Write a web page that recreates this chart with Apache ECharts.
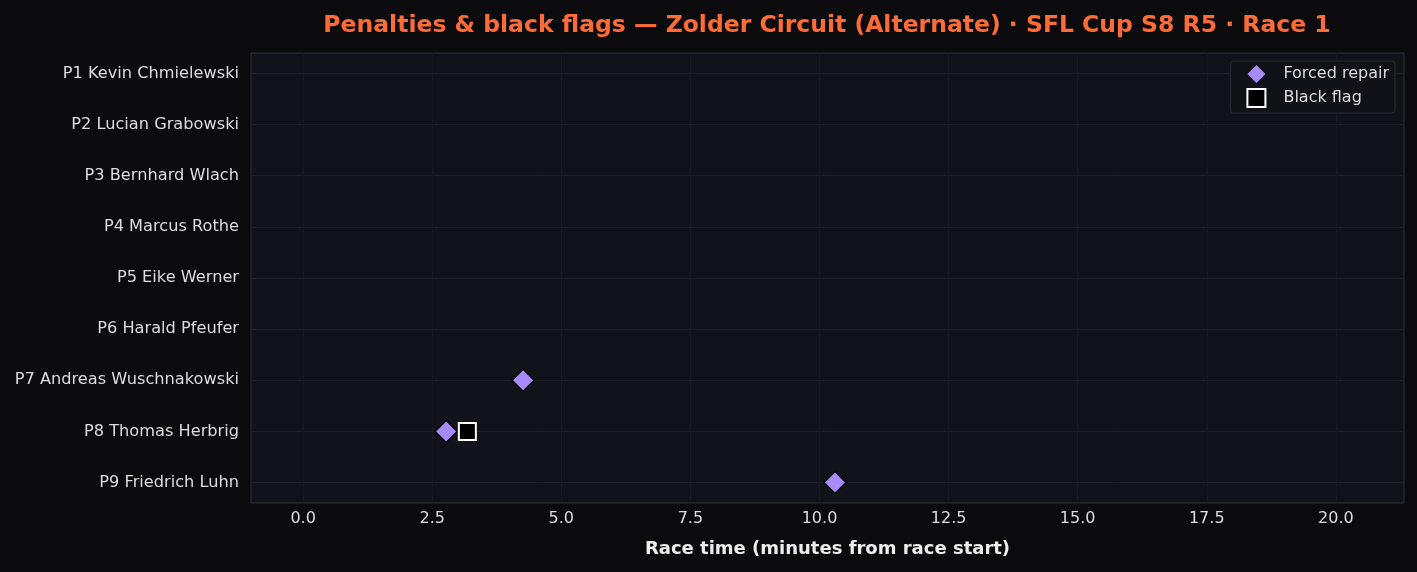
<!DOCTYPE html>
<html>
<head>
<meta charset="utf-8">
<script src="https://cdn.jsdelivr.net/npm/echarts@6/dist/echarts.min.js"></script>
<style>
  html, body { margin: 0; padding: 0; background: #0b0b0e; }
  #main { width: 1417px; height: 572px; }
</style>
</head>
<body>
<div id="main"></div>
<script>
// drivers, top to bottom (finishing order)
var drivers = [
    'P1 Kevin Chmielewski',
    'P2 Lucian Grabowski',
    'P3 Bernhard Wlach',
    'P4 Marcus Rothe',
    'P5 Eike Werner',
    'P6 Harald Pfeufer',
    'P7 Andreas Wuschnakowski',
    'P8 Thomas Herbrig',
    'P9 Friedrich Luhn'
];

// forced repair events: driver index + race minute
var repairDriver = [6, 7, 8];
var repairTime = [4.26, 2.77, 10.30];

// black flag events
var flagDriver = [7];
var flagTime = [3.18];

// x tick labels
var xTicks = [0, 2.5, 5, 7.5, 10, 12.5, 15, 17.5, 20];

var rowIdx = drivers.map(function (d, i) { return i; });

var chart = echarts.init(document.getElementById('main'));

var font = "'DejaVu Sans', sans-serif";
var gridColor = '#1f1f29';
var repairColor = '#a78bfa';

function pairs(xs, ys) {
    return xs.map(function (x, i) { return [x, ys[i]]; });
}

var option = {
    backgroundColor: '#0b0b0e',
    animation: false,
    title: {
        text: 'Penalties & black flags \u2014 Zolder Circuit (Alternate) \u00b7 SFL Cup S8 R5 \u00b7 Race 1',
        left: 822,
        textAlign: 'center',
        top: 9,
        textStyle: { color: '#ff6b35', fontFamily: font, fontSize: 23.5, fontWeight: 'bold' }
    },
    legend: {
        orient: 'vertical',
        right: 22,
        top: 61,
        z: 20,
        padding: [4, 6, 5, 16],
        itemGap: 5,
        itemWidth: 18,
        itemHeight: 18,
        backgroundColor: '#111118',
        borderColor: '#2c2c36',
        borderWidth: 1,
        borderRadius: 3,
        textStyle: { color: '#dddddd', fontFamily: font, fontSize: 16, padding: [0, 0, 0, 13] },
        data: [
            { name: 'Forced repair', icon: 'path://M10,0 L20,10 L10,20 L0,10 Z', itemStyle: { color: repairColor, borderWidth: 0 } },
            { name: 'Black flag', icon: 'rect', itemStyle: { color: '#000000', borderColor: '#ffffff', borderWidth: 2 } }
        ]
    },
    grid: {
        left: 251, right: 13, top: 53, bottom: 69,
        show: true,
        backgroundColor: '#12121a',
        borderColor: '#2e2e38',
        borderWidth: 1
    },
    xAxis: {
        type: 'value',
        min: -1.01,
        max: 21.32,
        name: 'Race time (minutes from race start)',
        nameLocation: 'middle',
        nameGap: 37,
        nameTextStyle: { color: '#eeeeee', fontFamily: font, fontSize: 18, fontWeight: 'bold' },
        axisLine: { show: false },
        axisTick: { show: true, customValues: xTicks, length: 5, lineStyle: { color: '#cccccc' } },
        axisLabel: {
            customValues: xTicks,
            color: '#dddddd', fontFamily: font, fontSize: 16, margin: 8,
            formatter: function (v) { return v.toFixed(1); }
        },
        splitLine: { show: false }
    },
    yAxis: {
        type: 'value',
        min: -0.4,
        max: 8.4,
        inverse: true,
        axisLine: { show: false },
        axisTick: { show: true, customValues: rowIdx, length: 5, lineStyle: { color: '#cccccc' } },
        axisLabel: {
            customValues: rowIdx,
            color: '#dddddd', fontFamily: font, fontSize: 16.2, margin: 12,
            formatter: function (v) { return drivers[Math.round(v)] || ''; }
        },
        splitLine: { show: false }
    },
    series: [
        {
            name: 'grid',
            type: 'line',
            data: [],
            silent: true,
            z: 1,
            markLine: {
                symbol: 'none',
                silent: true,
                z: 1,
                label: { show: false },
                lineStyle: { color: gridColor, width: 1, type: 'solid' },
                data: rowIdx.map(function (i) { return { yAxis: i }; })
                    .concat(xTicks.map(function (t) { return { xAxis: t, lineStyle: { color: '#191921' } }; }))
            }
        },
        {
            name: 'Forced repair',
            type: 'scatter',
            symbol: 'diamond',
            symbolSize: 22,
            itemStyle: { color: repairColor, borderColor: '#0b0b0e', borderWidth: 1.5, opacity: 1 },
            data: pairs(repairTime, repairDriver),
            z: 5
        },
        {
            name: 'Black flag',
            type: 'scatter',
            symbol: 'rect',
            symbolSize: 17,
            itemStyle: { color: '#000000', borderColor: '#ffffff', borderWidth: 2, opacity: 1 },
            data: pairs(flagTime, flagDriver),
            z: 6
        }
    ]
};

chart.setOption(option);
</script>
</body>
</html>
